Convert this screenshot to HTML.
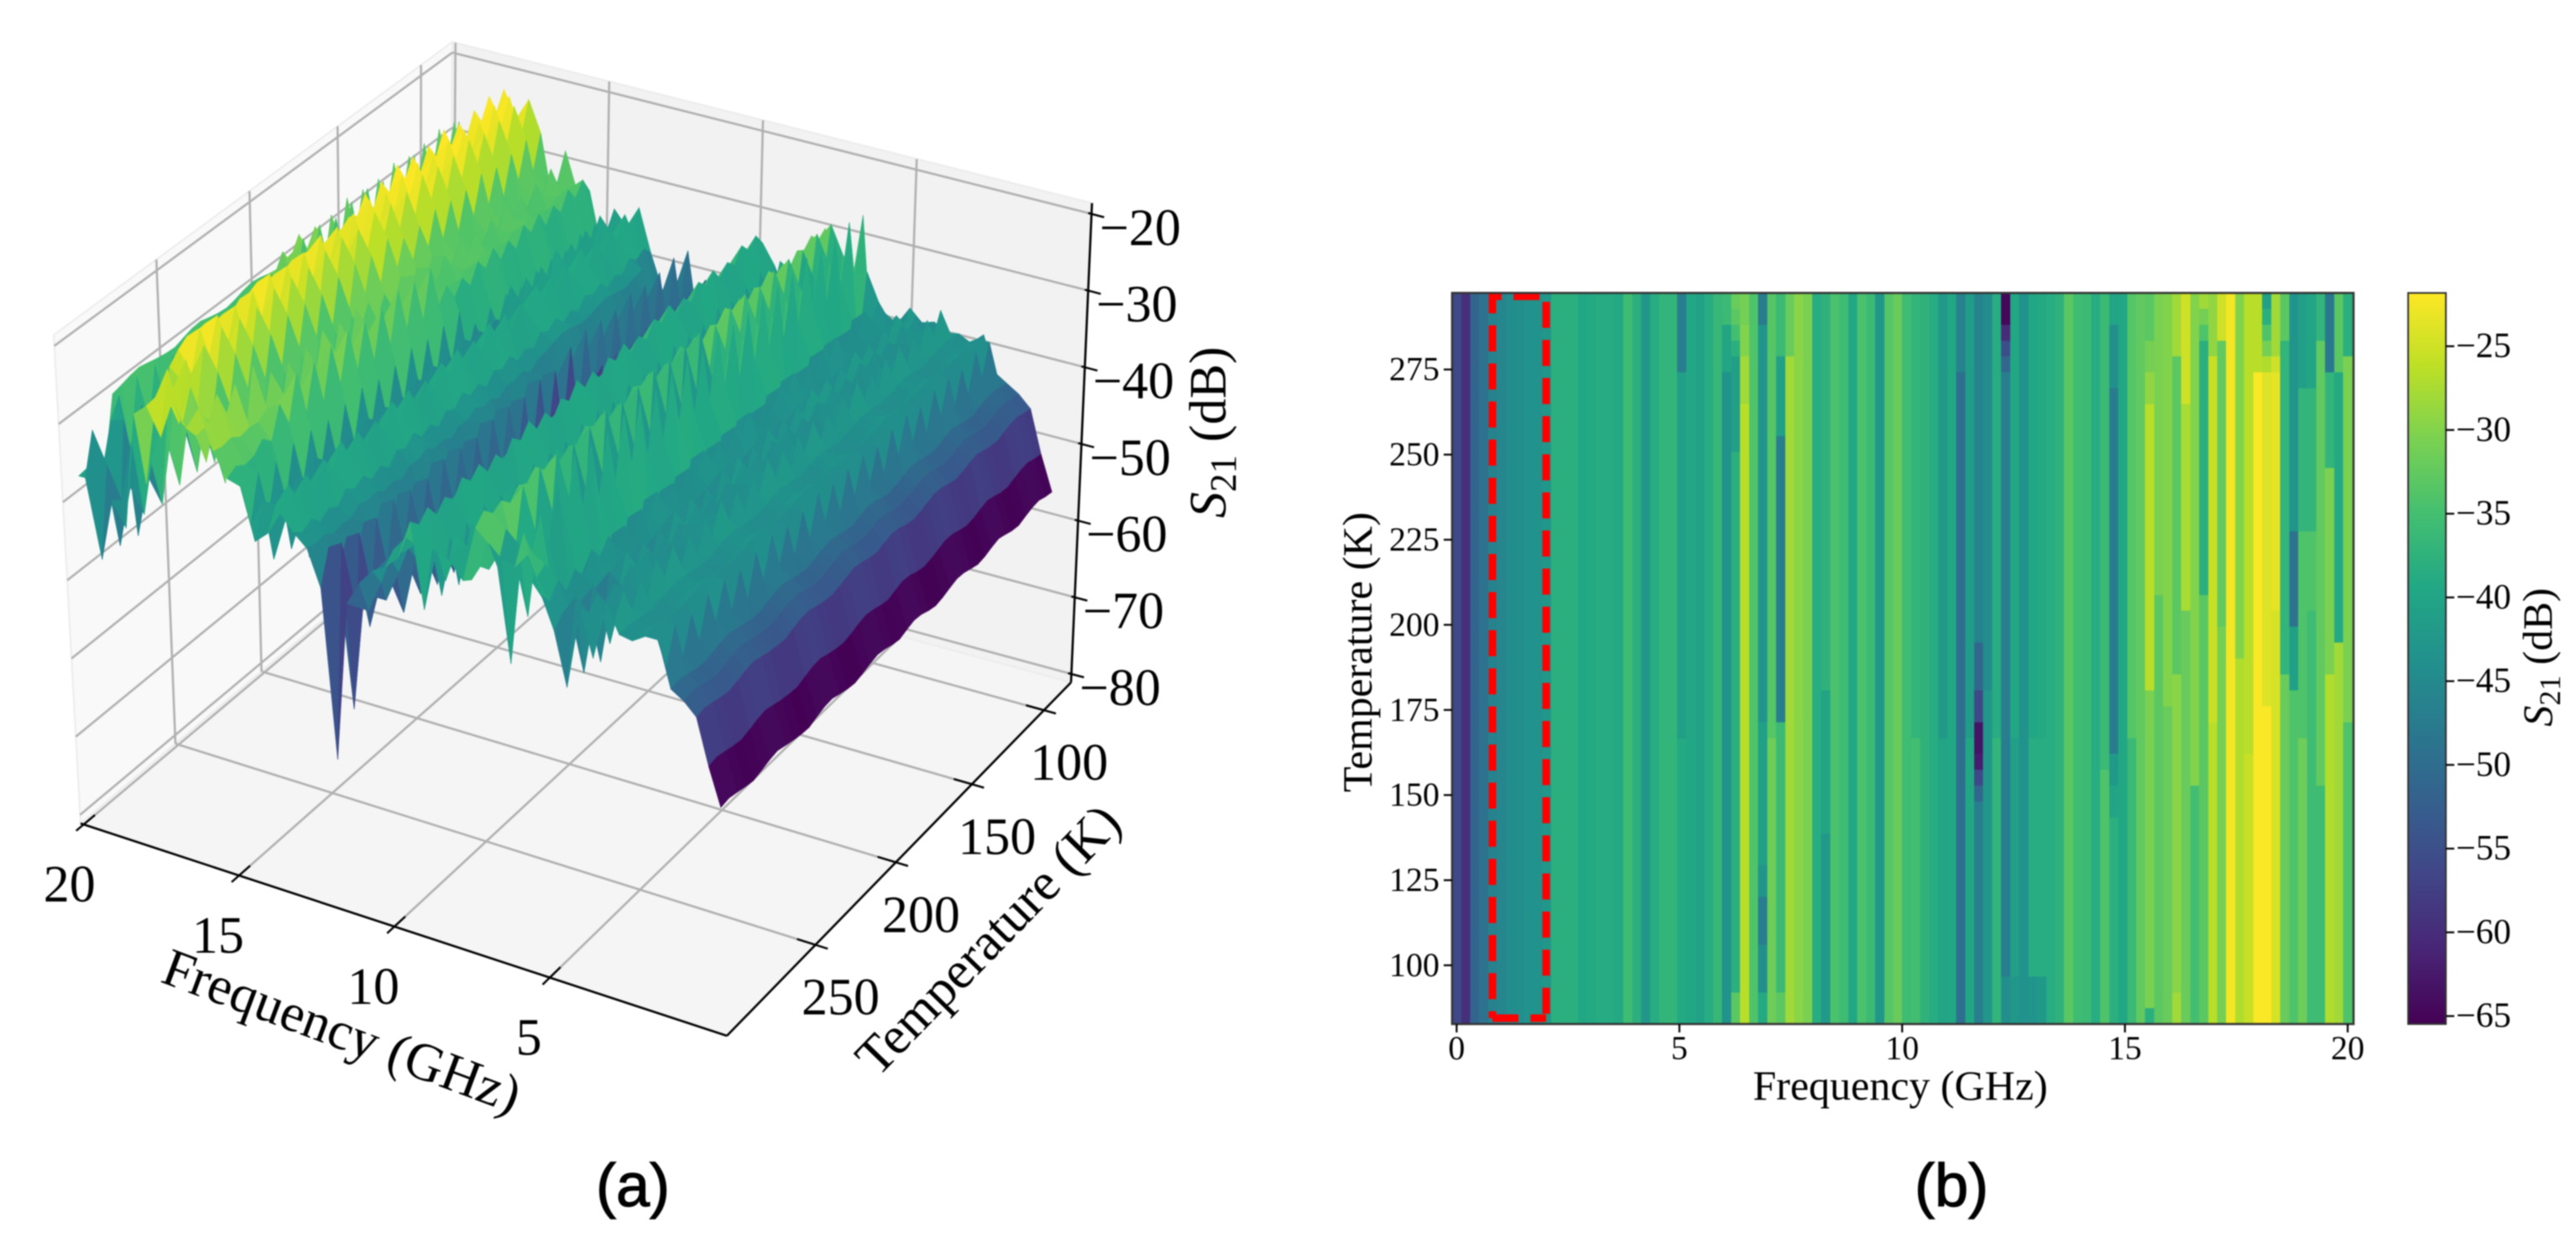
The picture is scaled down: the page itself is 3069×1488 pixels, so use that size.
<!DOCTYPE html>
<html lang="en">
<head>
<meta charset="utf-8">
<title>S21 versus frequency and temperature</title>
<style>
html,body{margin:0;padding:0;background:#fff;}
#figure{display:block;width:3069px;height:1488px;background:#fff;filter:blur(0.7px);}
text{font-family:"Liberation Serif","DejaVu Serif",serif;fill:#000;}
.caption{font-family:"Liberation Sans","DejaVu Sans",sans-serif;font-size:72px;stroke:#000;stroke-width:1.2px;text-anchor:middle;}
</style>
</head>
<body>
<svg id="figure" xmlns="http://www.w3.org/2000/svg" width="3069" height="1488" viewBox="0 0 3069 1488">
  <defs>
    <linearGradient id="viridisGrad" x1="0" y1="1" x2="0" y2="0"></linearGradient>
  </defs>
  <g id="panel3d">
    <g id="panes"></g>
    <g id="grid3d"></g>
    <g id="axes3d"></g>
    <g id="surface"></g>
    <g id="ticks3d"></g>
    <text font-size="64" text-anchor="middle" transform="translate(400,1248) rotate(20.5)">Frequency (GHz)</text>
    <text font-size="63" text-anchor="middle" transform="translate(1192,1134) rotate(-45.8)">Temperature (K)</text>
    <text font-size="62" text-anchor="middle" transform="translate(1460,515) rotate(-90)"><tspan font-style="italic">S</tspan><tspan font-size="44" dy="12">21</tspan><tspan dy="-12"> (dB)</tspan></text>
  </g>
  <g id="panelHeat">
    <g id="heat" shape-rendering="crispEdges"></g>
    <path d="M1778 1213 H1842" fill="none" stroke="#ff0000" stroke-width="9" stroke-dasharray="31 14.4"></path>
    <path d="M1842 1213 V353 H1778 V1213" fill="none" stroke="#ff0000" stroke-width="9" stroke-dasharray="31 14.4" stroke-dashoffset="40.2"></path>
    <rect x="1730" y="349" width="1074" height="871" fill="none" stroke="#333" stroke-width="2.5"></rect>
    <g id="heatTicks"></g>
    <text font-size="50" text-anchor="middle" x="2264" y="1310">Frequency (GHz)</text>
    <text font-size="50" text-anchor="middle" transform="translate(1634,777) rotate(-90)">Temperature (K)</text>
    <rect x="2869" y="349" width="45" height="871" fill="url(#viridisGrad)" stroke="#333" stroke-width="2"></rect>
    <g id="cbTicks"></g>
    <text font-size="50" text-anchor="middle" transform="translate(3040,783) rotate(-90)"><tspan font-style="italic">S</tspan><tspan font-size="36" dy="10">21</tspan><tspan dy="-10"> (dB)</tspan></text>
  </g>
  <text class="caption" x="754" y="1437">(a)</text>
  <text class="caption" x="2325" y="1437">(b)</text>
</svg>
<script>
// ---- chart data (dB) ----
const midRow = [
 -56,-59.5,-51.5,-49,-46,-45.5,-44.5,-44,-43.5,-43.5,
 -42.5,-38,-38,-38,-39.5,-39,-38.7,-38.7,-39,-35.5,
 -38,-42.5,-38.5,-37,-37,-41,-39.5,-40.5,-38.5,-36.5,
 -43,-38.5,-27,-34,-42.5,-33.5,-47,-28,-29.5,-30.5,
 -38.5,-37.5,-34.5,-35.5,-39.5,-34.5,-36,-42.5,-33.5,-32,
 -35.5,-37,-37.5,-38.5,-42,-39.5,-49.5,-41.5,-47,-44.5,
 -38.5,-46.5,-39.5,-43.5,-39.5,-39,-38.5,-37.5,-33,-35.5,
 -36,-38.5,-36,-47.5,-39.5,-33.5,-32.5,-26.5,-30.5,-30,
 -33,-27.5,-30,-38,-25.5,-32.5,-22.5,-30,-26.5,-22,
 -23.5,-23.5,-37,-49,-34,-34,-32.5,-30.5,-39,-30.5];
const traceCols = [25,30,31,32,34,35,36,37,41,51,54,56,57,58,59,60,61,62,64,65,72,73,75,77,78,79,80,81,82,83,84,85,87,88,89,90,91,92,93,94,95,96,97,98,99];
const traceStarts = [[0,5,28],[0,2,5],[0,1,2,3,4,10,44],[0,2,4,7],[0,2,27,36,38,41,44],[0,28],[0,4,9,27,44],[0,4],[0,25,34],[0,28],[0,28],[0,5],[0,28],[0,22,25,27,29,30,31,32],[0,25],[0,28],[0,2,3,4,5,43],[0,28,43],[0,28,43],[0,28,43],[0,30],[0,2,6,29,31,33],[0,28],[0,3,5,7,25,45],[0,19],[0,26],[0,4,24,44],[0,7,20],[0,31],[0,1,2,3,19],[0,4,27],[0,3,21],[0,23],[0,29],[0,5],[0,1,2,3,4,5,26],[0,4,5,20],[0,3,24],[0,15,21,25],[0,6,15,28],[0,6,15,20],[0,3,31],[0,5,11,24],[0,5,22],[0,4,27]];
const traceValues = [[-47,-41,-39],[-36,-40,-43.5],[-32,-33,-35,-38,-41,-38,-33],[-31,-30,-28,-26.5],[-47.5,-43,-41,-43,-47,-44,-39],[-33.5,-31.5],[-36,-41,-47,-36,-33],[-32,-28],[-37.5,-40,-42],[-37,-35],[-42,-40],[-46,-49.5],[-41.5,-39.5],[-46,-51,-56,-63,-62,-56,-51,-47],[-44.5,-42.5],[-38.5,-37],[-64.5,-60,-55,-51,-47,-44],[-39.5,-41,-42.5],[-39.5,-38.5,-43],[-39,-38.5,-42],[-36,-34],[-40,-44,-47.5,-42,-40,-38],[-33.5,-36],[-33,-31,-29,-26.5,-30.5,-38],[-30.5,-33],[-30,-32],[-28,-33,-29.5,-28],[-25,-27.5,-32],[-30,-35],[-28,-31,-34,-38,-33],[-29,-25.5,-26.5],[-25,-32.5,-31],[-30,-27],[-26.5,-25.5],[-26.5,-22],[-41,-38,-34,-31,-27,-24,-22],[-28,-25,-23.5,-24.5],[-33,-37,-32],[-43,-49,-41,-34],[-41,-37,-34,-31.5],[-40,-37,-34,-35.5],[-37,-32.5,-35.5],[-48,-37,-30.5,-27],[-33,-39,-28],[-38,-30.5,-34]];
const rowRipple = [0.15,0.35,0.1,-0.2,-0.4,-0.1,0.25,0.45,0.15,-0.15,-0.35,-0.45,-0.05,0.3,0.4,0.05,-0.25,-0.4,-0.15,0.2,0.45,0.25,-0.1,-0.3,0.05,0.35,0.2,-0.2,-0.45,-0.25,0.1,0.4,0.3,-0.05,-0.35,-0.2,0.15,0.4,0.1,-0.25,-0.4,-0.05,0.25,0.35,0,-0.2];
const rowCount = 46;
const tempTop = 297.5;
const tempBottom = 82.7;
const freqMax = 20;
const heatFreqTicks = [0,5,10,15,20];
const heatTempTicks = [100,125,150,175,200,225,250,275];
const colorbarTicks = [-25,-30,-35,-40,-45,-50,-55,-60,-65];
const freqTicks3d = [5,10,15,20];
const tempTicks3d = [100,150,200,250];
const zTicks3d = [-20,-30,-40,-50,-60,-70,-80];
const viridisStops = ['#440154','#482475','#414487','#355f8d','#2a788e','#21918c','#22a884','#44bf70','#7ad151','#bddf26','#fde725'];

// ---- helpers ----
const SVGNS = 'http://www.w3.org/2000/svg';
function mk(tag, parent){ const e = document.createElementNS(SVGNS, tag); parent.appendChild(e); return e; }
function hex(c){ return [parseInt(c.slice(1,3),16),parseInt(c.slice(3,5),16),parseInt(c.slice(5,7),16)]; }
function viridis(t){
  t = Math.max(0, Math.min(1, t));
  const p = t*(viridisStops.length-1), i = Math.min(viridisStops.length-2, Math.floor(p)), k = p-i;
  const a = hex(viridisStops[i]), b = hex(viridisStops[i+1]);
  return 'rgb('+Math.round(a[0]+(b[0]-a[0])*k)+','+Math.round(a[1]+(b[1]-a[1])*k)+','+Math.round(a[2]+(b[2]-a[2])*k)+')';
}
function s21(r, c){
  const idx = traceCols.indexOf(c);
  if (idx < 0) return midRow[c];
  const st = traceStarts[idx]; let v = midRow[c];
  for (let k = 0; k < st.length; k++) if (r >= st[k]) v = traceValues[idx][k];
  return v;
}
function colFreq(c){ return c*freqMax/(midRow.length-1); }
function rowTemp(r){ return tempTop-(r+0.5)*(tempTop-tempBottom)/rowCount; }

// ---- heatmap axis functions ----
function heatX(f){ return 1735.4+f*53.08; }
function heatY(T){ return 1150-(T-100)*4.056; }
function cbY(v){ return 412.5+(-25-v)*19.95; }
const cmin = -65.4, cmax = -21.8;

const heat = document.getElementById('heat');
const halfF = freqMax/(midRow.length-1)/2;
const halfT = (tempTop-tempBottom)/rowCount/2;
for (let r = 0; r < rowCount; r++){
  for (let c = 0; c < midRow.length; c++){
    const rect = mk('rect', heat);
    
    
    const x0 = heatX(colFreq(c)-halfF), x1 = heatX(colFreq(c)+halfF);
    const y0 = heatY(rowTemp(r)+halfT), y1 = heatY(rowTemp(r)-halfT);
    rect.setAttribute('x', x0.toFixed(1));
    rect.setAttribute('y', y0.toFixed(1));
    rect.setAttribute('width', (x1-x0+0.6).toFixed(1));
    rect.setAttribute('height', (y1-y0+0.6).toFixed(1));
    rect.setAttribute('fill', viridis((s21(r,c)-cmin)/(cmax-cmin)));
  }
}
function tickLine(parent, x1, y1, x2, y2, w, name){
  const l = mk('line', parent);
  
  
  l.setAttribute('x1', x1); l.setAttribute('y1', y1); l.setAttribute('x2', x2); l.setAttribute('y2', y2);
  l.setAttribute('stroke', '#000'); l.setAttribute('stroke-width', w);
  return l;
}
function label(parent, txt, x, y, size, anchor, name){
  const t = mk('text', parent);
  
  
  t.setAttribute('x', x); t.setAttribute('y', y);
  t.setAttribute('font-size', size); t.setAttribute('text-anchor', anchor);
  t.textContent = txt;
  return t;
}
function fmt(v){ return v < 0 ? '\u2212'+Math.abs(v) : String(v); }
const heatTicks = document.getElementById('heatTicks');
heatFreqTicks.forEach(f => {
  tickLine(heatTicks, heatX(f), 1220, heatX(f), 1230, 2.2, 'frequency-tick');
  label(heatTicks, String(f), heatX(f), 1262, 40, 'middle', 'frequency-tick-label');
});
heatTempTicks.forEach(T => {
  tickLine(heatTicks, 1720, heatY(T), 1730, heatY(T), 2.2, 'temperature-tick');
  label(heatTicks, String(T), 1715, heatY(T)+13, 40, 'end', 'temperature-tick-label');
});
const cbTicks = document.getElementById('cbTicks');
colorbarTicks.forEach(v => {
  tickLine(cbTicks, 2914, cbY(v), 2924, cbY(v), 2.2, 'colorbar-tick');
  label(cbTicks, fmt(v), 2926, cbY(v)+13, 42, 'start', 'colorbar-tick-label');
});
const grad = document.getElementById('viridisGrad');
viridisStops.forEach((c,i) => {
  const s = mk('stop', grad);
  s.setAttribute('offset', i/(viridisStops.length-1));
  s.setAttribute('stop-color', c);
});

// ---- 3D axis functions ----
const floorA=[96,981], floorB=[866,1234], floorC=[1276,813], floorD=[535,612];
const topA=[64,399], topB=[878,615], topC=[1301,242], topD=[539,50];
const fHi=20.1, fLo=-0.7, tHi=302, tLo=80.5, zLo=-81.1, zHi=-18.6, persp=1.13;
function lerp(a,b,t){ return [a[0]+(b[0]-a[0])*t, a[1]+(b[1]-a[1])*t]; }
function project(f,T,z){
  const u=(fHi-f)/(fHi-fLo);
  const v0=(tHi-T)/(tHi-tLo);
  const v=v0*persp/(1+(persp-1)*v0);
  const w=(z-zLo)/(zHi-zLo);
  const low=lerp(lerp(floorA,floorB,u),lerp(floorD,floorC,u),v);
  const high=lerp(lerp(topA,topB,u),lerp(topD,topC,u),v);
  return lerp(low,high,w);
}
function pts(list){ return list.map(p=>p[0].toFixed(1)+','+p[1].toFixed(1)).join(' '); }
function pane(parent, corners, fill, name){
  const p = mk('polygon', parent);
  
  
  p.setAttribute('points', pts(corners));
  p.setAttribute('fill', fill);
  p.setAttribute('stroke', '#ececec');
  p.setAttribute('stroke-width', '2');
}
const panes = document.getElementById('panes');
pane(panes,[floorA,floorD,topD,topA],'#f9f9f9','left-pane');
pane(panes,[floorD,floorC,topC,topD],'#f2f2f2','back-pane');
pane(panes,[floorA,floorB,floorC,floorD],'#f5f5f5','floor-pane');
function gridLine(a,b,name){
  const g = document.getElementById('grid3d');
  const l = mk('line', g);
  
  
  l.setAttribute('x1', a[0]); l.setAttribute('y1', a[1]); l.setAttribute('x2', b[0]); l.setAttribute('y2', b[1]);
  l.setAttribute('stroke', '#b0b0b0'); l.setAttribute('stroke-width', '2.6');
}
freqTicks3d.forEach(f => {
  gridLine(project(f,tHi,zLo),project(f,tLo,zLo),'floor-frequency-gridline');
  gridLine(project(f,tLo,zLo),project(f,tLo,zHi),'back-frequency-gridline');
});
tempTicks3d.forEach(T => {
  gridLine(project(fLo,T,zLo),project(fHi,T,zLo),'floor-temperature-gridline');
  gridLine(project(fHi,T,zLo),project(fHi,T,zHi),'left-temperature-gridline');
});
zTicks3d.forEach(z => {
  gridLine(project(fHi,tHi,z),project(fHi,tLo,z),'left-level-gridline');
  gridLine(project(fHi,tLo,z),project(fLo,tLo,z),'back-level-gridline');
});
const axes3d = document.getElementById('axes3d');
tickLine(axes3d, floorA[0],floorA[1],floorB[0],floorB[1],2.6,'frequency-axis-line');
tickLine(axes3d, floorB[0],floorB[1],floorC[0],floorC[1],2.6,'temperature-axis-line');
tickLine(axes3d, floorC[0],floorC[1],topC[0],topC[1],2.6,'level-axis-line');

// ---- surface: coarse mesh, neighbouring rows sample neighbouring columns ----
const surfaceCols = [];
for (let c = 0; c < midRow.length-1; c += 2) surfaceCols.push(c);
surfaceCols.push(midRow.length-1);
function surfZ(r, c){
  const sc = (r%2===0 && c>=10) ? Math.min(c+1, midRow.length-1) : c;
  return s21(r, sc)+rowRipple[r];
}
const faces = [];
let faceMin = Infinity, faceMax = -Infinity;
for (let r = rowCount-2; r >= 0; r--){
  for (let k = surfaceCols.length-2; k >= 0; k--){
    const ca = surfaceCols[k], cb = surfaceCols[k+1];
    const avg = (surfZ(r,ca)+surfZ(r,cb)+surfZ(r+1,ca)+surfZ(r+1,cb))/4;
    faceMin = Math.min(faceMin, avg); faceMax = Math.max(faceMax, avg);
    faces.push({r:r, ca:ca, cb:cb, avg:avg});
  }
}
const surface = document.getElementById('surface');
faces.forEach(o => {
  const fa = colFreq(o.ca), fb = colFreq(o.cb), ta = rowTemp(o.r), tb = rowTemp(o.r+1);
  const poly = mk('polygon', surface);
  
  
  poly.setAttribute('points', pts([
    project(fa,ta,surfZ(o.r,o.ca)),
    project(fb,ta,surfZ(o.r,o.cb)),
    project(fb,tb,surfZ(o.r+1,o.cb)),
    project(fa,tb,surfZ(o.r+1,o.ca))]));
  const col = viridis((o.avg-faceMin)/(faceMax-faceMin));
  poly.setAttribute('fill', col);
  poly.setAttribute('stroke', col);
  poly.setAttribute('stroke-width', '0.6');
});

// ---- 3D ticks and labels ----
const ticks3d = document.getElementById('ticks3d');
freqTicks3d.forEach(f => {
  const a = project(f,tHi,zLo), b = project(f,tHi-6,zLo), c = project(f,tHi+4,zLo);
  tickLine(ticks3d, b[0],b[1],c[0],c[1],2.4,'frequency-tick-3d');
  label(ticks3d, String(f), a[0]-(f===20?17:25), a[1]+92, 62, 'middle', 'frequency-tick-label-3d');
});
tempTicks3d.forEach(T => {
  const a = project(fLo,T,zLo), b = project(fLo+0.6,T,zLo), c = project(fLo-0.4,T,zLo);
  tickLine(ticks3d, b[0],b[1],c[0],c[1],2.4,'temperature-tick-3d');
  label(ticks3d, String(T), a[0]+30, a[1]+83, 62, 'middle', 'temperature-tick-label-3d');
});
zTicks3d.forEach(z => {
  const a = project(fLo,tLo,z);
  tickLine(ticks3d, a[0]-4,a[1]-1,a[0]+15,a[1]+4,2.4,'level-tick-3d');
  label(ticks3d, fmt(z), a[0]+58, a[1]+37, 62, 'middle', 'level-tick-label-3d');
});
</script>
</body>
</html>
